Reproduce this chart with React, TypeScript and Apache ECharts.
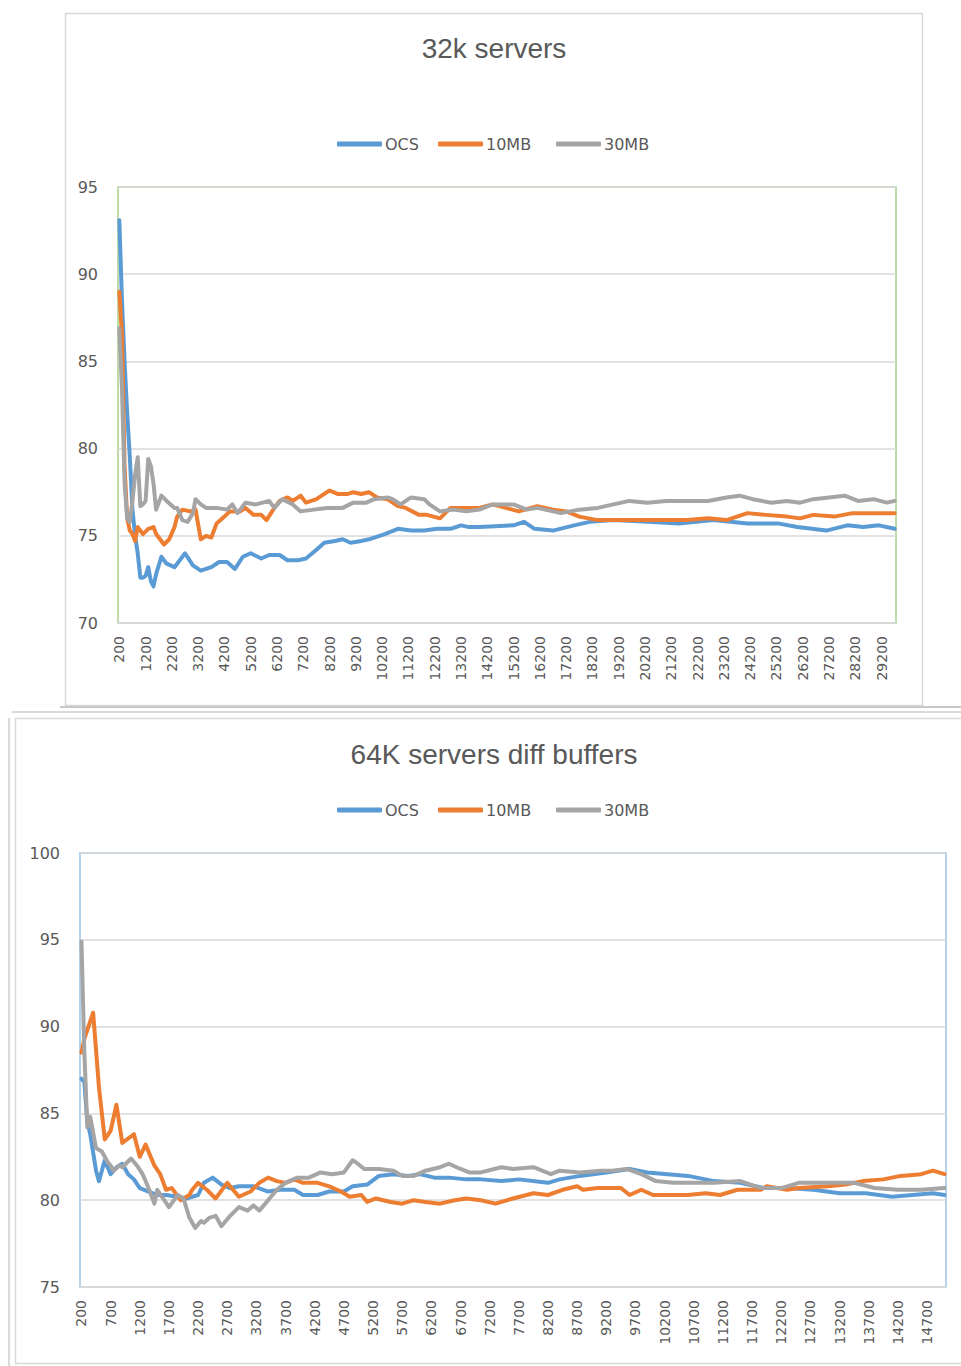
import React, { useEffect, useRef } from "react";
import * as echarts from "echarts";

const SERIES_NAMES = ["OCS", "10MB", "30MB"];
const COLORS = ["#5b9bd5", "#ed7d31", "#a5a5a5"];

// Category axes (x values)
const cats32k = Array.from({ length: 296 }, (_, i) => String(200 + i * 100));
const cats64k = Array.from({ length: 297 }, (_, i) => String(200 + i * 50));

// ---------- 32k servers ----------
const ocs32X = [200, 300, 400, 500, 600, 700, 800, 900, 1000, 1100, 1200, 1300, 1400, 1500, 1600, 1800, 2000, 2300, 2500, 2700, 3000, 3300, 3700, 4000, 4300, 4600, 4900, 5200, 5600, 5900, 6300, 6600, 7000, 7300, 7700, 8000, 8400, 8700, 9000, 9400, 9700, 10100, 10300, 10800, 11300, 11800, 12300, 12800, 13200, 13500, 13900, 15200, 15600, 16000, 16700, 17500, 18100, 19000, 20300, 21500, 22800, 24100, 25300, 26000, 27100, 27900, 28500, 29100, 29700];
const ocs32Y = [93.1, 88.5, 85.0, 82.0, 79.5, 76.5, 75.0, 74.0, 72.6, 72.6, 72.7, 73.2, 72.4, 72.1, 72.8, 73.8, 73.4, 73.2, 73.6, 74.0, 73.3, 73.0, 73.2, 73.5, 73.5, 73.1, 73.8, 74.0, 73.7, 73.9, 73.9, 73.6, 73.6, 73.7, 74.2, 74.6, 74.7, 74.8, 74.6, 74.7, 74.8, 75.0, 75.1, 75.4, 75.3, 75.3, 75.4, 75.4, 75.6, 75.5, 75.5, 75.6, 75.8, 75.4, 75.3, 75.6, 75.8, 75.9, 75.8, 75.7, 75.9, 75.7, 75.7, 75.5, 75.3, 75.6, 75.5, 75.6, 75.4];

const mb10_32X = [200, 300, 400, 500, 600, 700, 800, 900, 1100, 1300, 1500, 1600, 1900, 2100, 2300, 2400, 2600, 2900, 3100, 3300, 3500, 3700, 3900, 4200, 4400, 4800, 5000, 5300, 5600, 5800, 6100, 6300, 6600, 6800, 7100, 7300, 7700, 8000, 8200, 8500, 8900, 9100, 9400, 9700, 10000, 10400, 10800, 11100, 11600, 11900, 12400, 12800, 13500, 13900, 14400, 14900, 15400, 16100, 16700, 17200, 17700, 18400, 19000, 19800, 20300, 21000, 21800, 22600, 23300, 24100, 24800, 25600, 26100, 26600, 27400, 28100, 28900, 29700];
const mb10_32Y = [89.0, 86.5, 79.0, 76.0, 75.3, 75.1, 74.7, 75.5, 75.1, 75.4, 75.5, 75.1, 74.5, 74.8, 75.5, 76.1, 76.5, 76.4, 76.5, 74.8, 75.0, 74.9, 75.7, 76.1, 76.4, 76.4, 76.6, 76.2, 76.2, 75.9, 76.6, 77.0, 77.2, 77.0, 77.3, 76.9, 77.1, 77.4, 77.6, 77.4, 77.4, 77.5, 77.4, 77.5, 77.2, 77.1, 76.7, 76.6, 76.2, 76.2, 76.0, 76.6, 76.6, 76.6, 76.8, 76.6, 76.4, 76.7, 76.5, 76.4, 76.1, 75.9, 75.9, 75.9, 75.9, 75.9, 75.9, 76.0, 75.9, 76.3, 76.2, 76.1, 76.0, 76.2, 76.1, 76.3, 76.3, 76.3];

const mb30_32X = [200, 300, 400, 500, 600, 700, 800, 900, 1000, 1100, 1200, 1300, 1400, 1500, 1600, 1800, 2000, 2300, 2400, 2600, 2800, 3000, 3100, 3300, 3500, 3900, 4300, 4500, 4700, 5000, 5400, 5900, 6100, 6400, 6800, 7100, 7600, 8100, 8700, 9100, 9600, 9900, 10400, 10600, 10900, 11300, 11800, 12000, 12400, 12900, 13400, 13900, 14400, 15200, 15700, 16100, 17000, 17700, 18400, 19000, 19600, 20300, 21000, 21800, 22600, 23300, 23800, 24300, 25000, 25600, 26100, 26600, 27200, 27800, 28300, 28900, 29400, 29700];
const mb30_32Y = [86.9, 83.5, 78.0, 76.0, 75.8, 77.0, 78.5, 79.5, 76.7, 76.8, 77.0, 79.4, 79.0, 78.0, 76.5, 77.3, 77.0, 76.6, 76.6, 75.9, 75.8, 76.3, 77.1, 76.8, 76.6, 76.6, 76.5, 76.8, 76.3, 76.9, 76.8, 77.0, 76.6, 77.1, 76.8, 76.4, 76.5, 76.6, 76.6, 76.9, 76.9, 77.1, 77.2, 77.1, 76.8, 77.2, 77.1, 76.8, 76.4, 76.5, 76.4, 76.5, 76.8, 76.8, 76.5, 76.6, 76.3, 76.5, 76.6, 76.8, 77.0, 76.9, 77.0, 77.0, 77.0, 77.2, 77.3, 77.1, 76.9, 77.0, 76.9, 77.1, 77.2, 77.3, 77.0, 77.1, 76.9, 77.0];

// ---------- 64K servers diff buffers ----------
const ocs64X = [200, 250, 300, 350, 450, 500, 600, 700, 800, 900, 1000, 1100, 1200, 1350, 1500, 1650, 1850, 2000, 2200, 2300, 2450, 2600, 2750, 2900, 3150, 3400, 3600, 3850, 4000, 4250, 4450, 4700, 4850, 5100, 5300, 5550, 5800, 6000, 6250, 6500, 6800, 7050, 7400, 7700, 8200, 8400, 8750, 9200, 9600, 9900, 10250, 10600, 11050, 11500, 11900, 12300, 12750, 13200, 13650, 14100, 14450, 14800, 15000];
const ocs64Y = [87.0, 86.8, 84.5, 83.8, 81.7, 81.1, 82.3, 81.5, 81.9, 82.1, 81.5, 81.2, 80.7, 80.5, 80.3, 80.3, 80.2, 80.1, 80.3, 81.0, 81.3, 80.9, 80.7, 80.8, 80.8, 80.5, 80.6, 80.6, 80.3, 80.3, 80.5, 80.5, 80.8, 80.9, 81.4, 81.5, 81.4, 81.5, 81.3, 81.3, 81.2, 81.2, 81.1, 81.2, 81.0, 81.2, 81.4, 81.6, 81.8, 81.6, 81.5, 81.4, 81.1, 81.0, 80.7, 80.7, 80.6, 80.4, 80.4, 80.2, 80.3, 80.4, 80.3];

const mb10_64X = [200, 250, 400, 500, 600, 700, 800, 900, 1100, 1200, 1300, 1450, 1550, 1650, 1750, 1900, 2050, 2100, 2200, 2350, 2500, 2700, 2900, 3100, 3250, 3400, 3550, 3700, 3850, 4000, 4250, 4450, 4650, 4800, 5000, 5100, 5250, 5500, 5700, 5900, 6100, 6350, 6600, 6800, 7050, 7300, 7600, 7950, 8200, 8450, 8700, 8800, 9050, 9450, 9600, 9800, 10000, 10350, 10600, 10900, 11150, 11450, 11850, 11950, 12300, 12500, 13000, 13300, 13600, 13950, 14250, 14600, 14800, 15000];
const mb10_64Y = [88.5, 89.3, 90.8, 86.5, 83.5, 84.0, 85.5, 83.3, 83.8, 82.5, 83.2, 82.0, 81.5, 80.6, 80.7, 80.0, 80.3, 80.6, 81.0, 80.6, 80.1, 81.0, 80.2, 80.5, 81.0, 81.3, 81.1, 81.0, 81.2, 81.0, 81.0, 80.8, 80.5, 80.2, 80.3, 79.9, 80.1, 79.9, 79.8, 80.0, 79.9, 79.8, 80.0, 80.1, 80.0, 79.8, 80.1, 80.4, 80.3, 80.6, 80.8, 80.6, 80.7, 80.7, 80.3, 80.6, 80.3, 80.3, 80.3, 80.4, 80.3, 80.6, 80.6, 80.8, 80.6, 80.7, 80.8, 80.9, 81.1, 81.2, 81.4, 81.5, 81.7, 81.5];

const mb30_64X = [200, 250, 300, 350, 450, 550, 650, 700, 750, 850, 900, 1050, 1150, 1250, 1350, 1450, 1500, 1600, 1700, 1850, 1950, 2050, 2150, 2250, 2300, 2400, 2500, 2600, 2750, 2900, 3050, 3150, 3250, 3400, 3550, 3700, 3900, 4100, 4300, 4500, 4700, 4850, 4900, 5050, 5300, 5550, 5700, 5900, 6100, 6350, 6500, 6700, 6850, 7050, 7400, 7600, 7950, 8250, 8400, 8750, 9100, 9300, 9550, 9800, 10050, 10350, 10750, 11050, 11500, 11850, 12200, 12500, 13000, 13450, 13800, 14200, 14600, 15000];
const mb30_64Y = [94.9, 88.5, 84.2, 84.8, 83.0, 82.8, 82.2, 82.0, 81.7, 82.0, 81.9, 82.4, 82.0, 81.5, 80.7, 79.8, 80.6, 80.1, 79.6, 80.3, 80.1, 79.0, 78.4, 78.8, 78.7, 79.0, 79.1, 78.5, 79.1, 79.6, 79.4, 79.7, 79.4, 80.0, 80.6, 81.0, 81.3, 81.3, 81.6, 81.5, 81.6, 82.3, 82.2, 81.8, 81.8, 81.7, 81.4, 81.4, 81.7, 81.9, 82.1, 81.8, 81.6, 81.6, 81.9, 81.8, 81.9, 81.5, 81.7, 81.6, 81.7, 81.7, 81.8, 81.5, 81.1, 81.0, 81.0, 81.0, 81.1, 80.7, 80.7, 81.0, 81.0, 81.0, 80.7, 80.6, 80.6, 80.7];

const TITLE_32 = "32k servers";
const TITLE_64 = "64K servers diff buffers";

const TEXT_COLOR = "#595959";
const TITLE_FONT = "Liberation Sans";
const LABEL_FONT = "DejaVu Sans";

function pairs(xs: number[], ys: number[]) {
  return xs.map((x, i) => [String(x), ys[i]]);
}

export default function App() {
  const ref = useRef<HTMLDivElement>(null);

  useEffect(() => {
    if (!ref.current) return;
    const chart = echarts.init(ref.current, undefined, { renderer: "svg" });

    const sets32 = [pairs(ocs32X, ocs32Y), pairs(mb10_32X, mb10_32Y), pairs(mb30_32X, mb30_32Y)];
    const sets64 = [pairs(ocs64X, ocs64Y), pairs(mb10_64X, mb10_64Y), pairs(mb30_64X, mb30_64Y)];

    const series: any[] = [];
    const mk = (d: any[], i: number, axis: number) => ({
      type: "line",
      name: SERIES_NAMES[i],
      xAxisIndex: axis,
      yAxisIndex: axis,
      data: d,
      symbol: "none",
      lineStyle: { width: 4, color: COLORS[i], cap: "round", join: "round" },
      itemStyle: { color: COLORS[i] },
    });
    sets32.forEach((d, i) => series.push(mk(d, i, 0)));
    sets64.forEach((d, i) => series.push(mk(d, i, 1)));

    const legendLefts = [337, 438, 556];
    const legendTops = [136, 802];
    const legends: any[] = [];
    legendTops.forEach((t) =>
      SERIES_NAMES.forEach((n, i) =>
        legends.push({
          data: [n],
          left: legendLefts[i],
          top: t,
          padding: 0,
          icon: "roundRect",
          itemWidth: 45,
          itemHeight: 5,
          selectedMode: false,
          textStyle: { fontFamily: LABEL_FONT, fontSize: 16, color: TEXT_COLOR, padding: [0, 0, 0, -2] },
        })
      )
    );

    const xAxisCommon = {
      type: "category",
      boundaryGap: true,
      axisTick: { show: false },
      axisLine: { show: true, lineStyle: { color: "#d9d9d9", width: 1.5 } },
      splitLine: { show: false },
    };
    const yAxisCommon = {
      type: "value",
      interval: 5,
      axisLine: { show: false },
      axisTick: { show: false },
      splitLine: { show: true, lineStyle: { color: "#d9d9d9", width: 1.5 } },
      axisLabel: { fontFamily: LABEL_FONT, fontSize: 16, color: TEXT_COLOR, margin: 20 },
    };
    const xLabel = { interval: 9, rotate: 90, fontFamily: LABEL_FONT, fontSize: 14, color: TEXT_COLOR, margin: 13 };

    chart.setOption({
      animation: false,
      backgroundColor: "#ffffff",
      title: [
        { text: TITLE_32, left: 494, top: 34, textAlign: "center", padding: 0, textStyle: { fontFamily: TITLE_FONT, fontSize: 28, fontWeight: "normal", color: TEXT_COLOR } },
        { text: TITLE_64, left: 494, top: 740, textAlign: "center", padding: 0, textStyle: { fontFamily: TITLE_FONT, fontSize: 28, fontWeight: "normal", color: TEXT_COLOR } },
      ],
      legend: legends,
      grid: [
        { left: 118, top: 187, width: 778, height: 436, show: true, borderColor: "#a9d18e", borderWidth: 1.5, containLabel: false },
        { left: 80, top: 853, width: 866, height: 434, show: true, borderColor: "#9dc3e6", borderWidth: 1.5, containLabel: false },
      ],
      xAxis: [
        { ...xAxisCommon, gridIndex: 0, data: cats32k, axisLabel: xLabel },
        { ...xAxisCommon, gridIndex: 1, data: cats64k, axisLabel: xLabel },
      ],
      yAxis: [
        { ...yAxisCommon, gridIndex: 0, min: 70, max: 95 },
        { ...yAxisCommon, gridIndex: 1, min: 75, max: 100 },
      ],
      graphic: [
        { type: "rect", z: -1, shape: { x: 65.5, y: 13.5, width: 857, height: 692 }, style: { fill: "none", stroke: "#d9d9d9", lineWidth: 1.5 } },
        { type: "line", z: -1, shape: { x1: 60, y1: 707, x2: 961, y2: 707 }, style: { stroke: "#c8c8c8", lineWidth: 2 } },
        { type: "line", z: -1, shape: { x1: 12, y1: 712, x2: 961, y2: 712 }, style: { stroke: "#d9d9d9", lineWidth: 2 } },
        { type: "rect", z: -1, shape: { x: 15.5, y: 718.5, width: 960, height: 645 }, style: { fill: "none", stroke: "#d9d9d9", lineWidth: 1.5 } },
        { type: "line", z: -1, shape: { x1: 9, y1: 718, x2: 9, y2: 1366 }, style: { stroke: "#d9d9d9", lineWidth: 2 } },
      ],
      series,
    });

    return () => chart.dispose();
  }, []);

  return (
    <div
      ref={ref}
      style={{ position: "absolute", left: 0, top: 0, width: 961, height: 1366, background: "#fff" }}
    />
  );
}
